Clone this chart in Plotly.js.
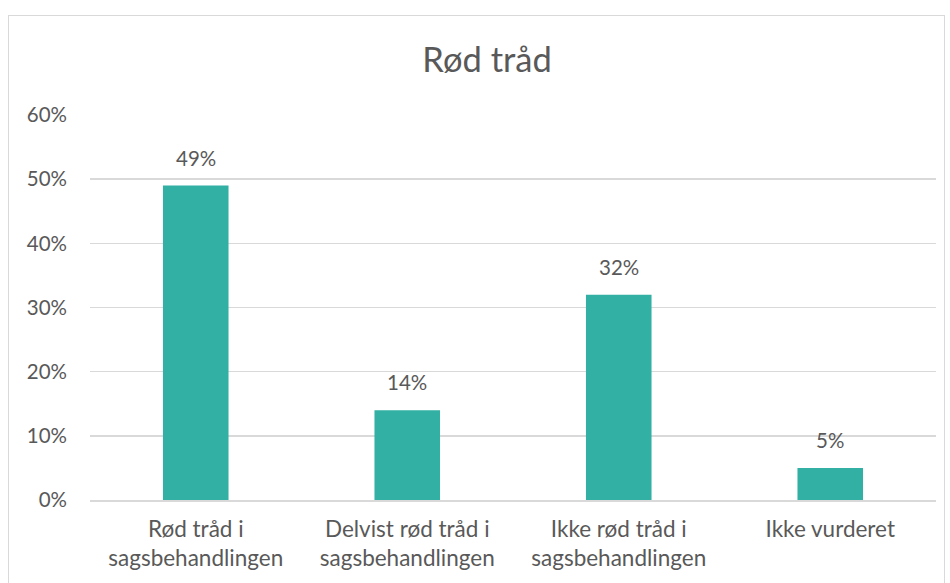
<!DOCTYPE html>
<html>
<head>
<meta charset="utf-8">
<script src="https://cdn.plot.ly/plotly-3.0.1.min.js"></script>
<style>
  html, body { margin: 0; padding: 0; background: #fff; }
  #wrap { position: relative; width: 950px; height: 583px; overflow: hidden; }
  #frame { position: absolute; left: 8px; top: 15px; width: 937px; height: 600px; border: 1.5px solid #d9d9d9; box-sizing: border-box; pointer-events: none; }
  #chart { position: absolute; left: 0; top: 0; width: 950px; height: 583px; }
</style>
</head>
<body>
<div id="wrap">
  <div id="chart"></div>
  <div id="frame"></div>
</div>
<script>
const categories = [
  "Rød tråd i<br>sagsbehandlingen",
  "Delvist rød tråd i<br>sagsbehandlingen",
  "Ikke rød tråd i<br>sagsbehandlingen",
  "Ikke vurderet"
];
const values = [0.49, 0.14, 0.32, 0.05];
const labels = ["49%", "14%", "32%", "5%"];

const FONT = "Lato, 'Open Sans', sans-serif";
const TXT = "#595959";

const trace = {
  type: "bar",
  x: categories,
  y: values,
  marker: { color: "#31b0a3" },
  width: 0.31,
  hoverinfo: "none"
};

const dataLabels = categories.map((c, i) => ({
  x: c,
  y: values[i],
  xref: "x",
  yref: "y",
  text: labels[i],
  showarrow: false,
  yanchor: "bottom",
  yshift: 14,
  font: { family: FONT, size: 20.5, color: TXT }
}));

const layout = {
  width: 950,
  height: 583,
  margin: { l: 90, r: 14, t: 115, b: 83 },
  paper_bgcolor: "#ffffff",
  plot_bgcolor: "#ffffff",
  showlegend: false,
  font: { family: FONT, color: TXT },
  title: {
    text: "Rød tråd",
    font: { family: FONT, size: 34.5, color: TXT },
    x: 487 / 950, xref: "container", xanchor: "center",
    y: 1 - 60 / 583, yref: "container", yanchor: "middle"
  },
  annotations: dataLabels,
  xaxis: {
    type: "category",
    showgrid: false,
    showline: true,
    linecolor: "#d9d9d9",
    linewidth: 1.5,
    ticks: "",
    ticklabelstandoff: 8,
    tickfont: { family: FONT, size: 22.5, color: TXT },
    fixedrange: true
  },
  yaxis: {
    range: [0, 0.6],
    dtick: 0.1,
    tick0: 0,
    tickformat: ".0%",
    showgrid: true,
    gridcolor: "#d9d9d9",
    gridwidth: 1.5,
    zeroline: false,
    showline: false,
    ticks: "",
    ticklabelstandoff: 22,
    tickfont: { family: FONT, size: 20.5, color: TXT },
    fixedrange: true
  }
};

Plotly.newPlot("chart", [trace], layout, { displayModeBar: false, staticPlot: true });
</script>
</body>
</html>
